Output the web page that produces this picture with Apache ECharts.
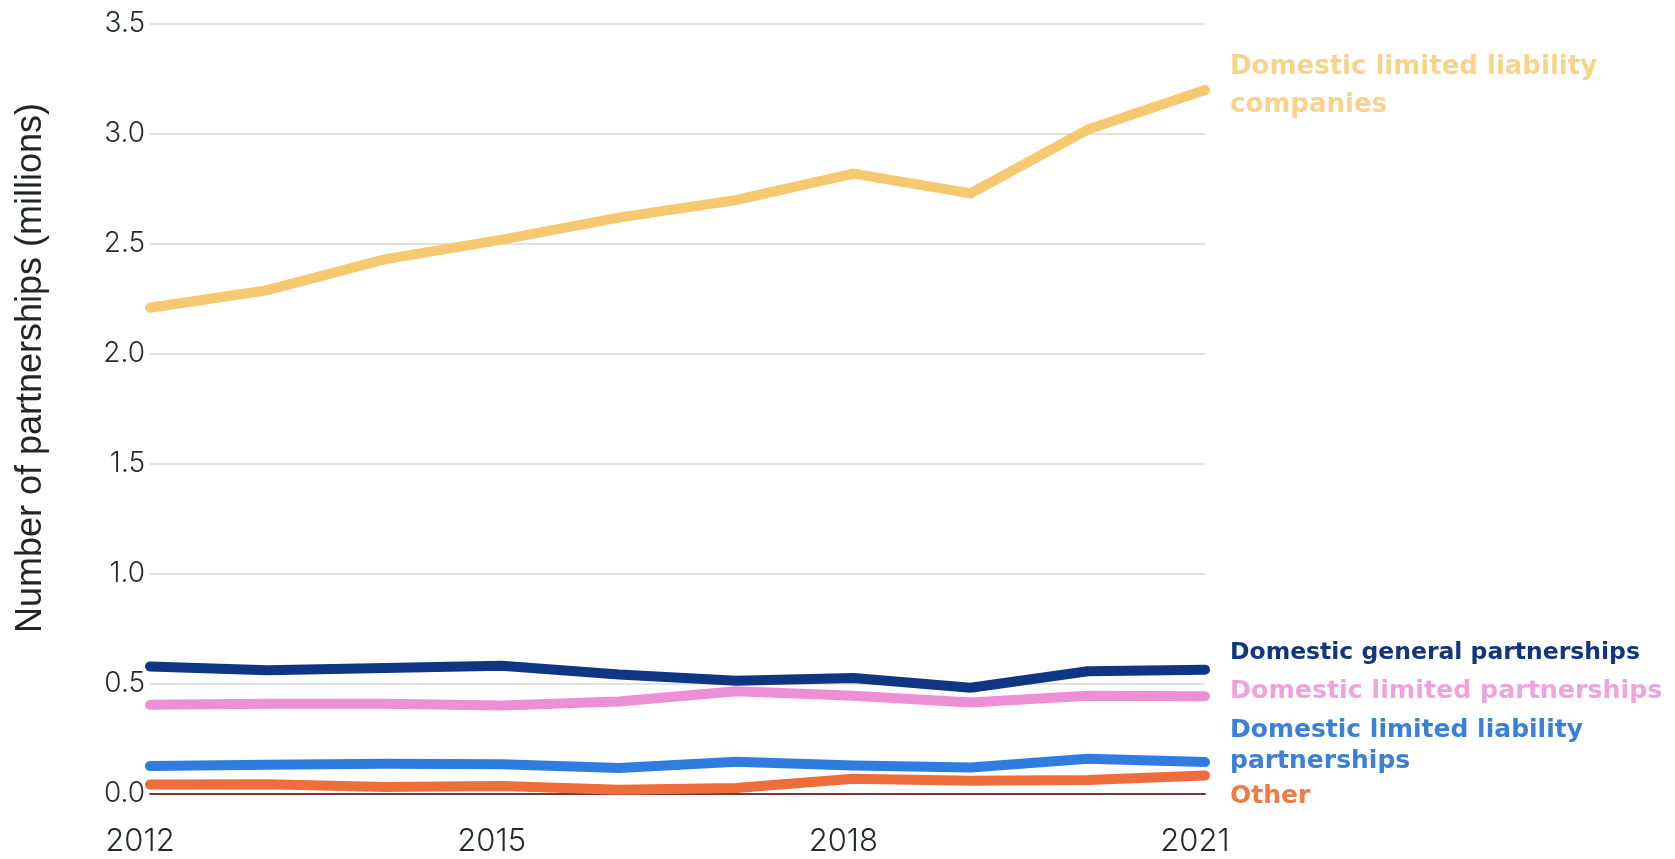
<!DOCTYPE html>
<html>
<head>
<meta charset="utf-8">
<script src="https://cdn.jsdelivr.net/npm/echarts@6/dist/echarts.min.js"></script>
<style>
  html, body { margin: 0; padding: 0; background: #fff; }
  #chart { width: 1675px; height: 859px; }
</style>
</head>
<body>
<div id="chart"></div>
<script>
// years on the x axis
var years = ['2012', '2013', '2014', '2015', '2016', '2017', '2018', '2019', '2020', '2021'];
var yTicks = [0, 0.5, 1, 1.5, 2, 2.5, 3, 3.5];

// partnerships, millions
var llc = [2.21, 2.29, 2.43, 2.52, 2.62, 2.70, 2.82, 2.73, 3.02, 3.20];
var generalP = [0.58, 0.563, 0.573, 0.583, 0.543, 0.515, 0.527, 0.483, 0.558, 0.565];
var limitedP = [0.406, 0.41, 0.41, 0.402, 0.42, 0.467, 0.447, 0.416, 0.447, 0.444];
var llp = [0.127, 0.133, 0.138, 0.135, 0.118, 0.147, 0.129, 0.12, 0.160, 0.145];
var other = [0.043, 0.044, 0.032, 0.036, 0.019, 0.027, 0.069, 0.060, 0.064, 0.084];

var names = [
    'Domestic limited liability\ncompanies',
    'Domestic general partnerships',
    'Domestic limited partnerships',
    'Domestic limited liability\npartnerships',
    'Other'
];

var axisFont = 'Inter, "Noto Sans", sans-serif';
var labelFont = '"DejaVu Sans", sans-serif';

function mkSeries(data, name, color, labelColor, size, lh, offsetY) {
    return {
        type: 'line',
        name: name,
        data: data,
        symbol: 'none',
        silent: true,
        lineStyle: { color: color, width: 10, cap: 'round', join: 'round' },
        endLabel: {
            show: true,
            formatter: name,
            color: labelColor,
            fontFamily: labelFont,
            fontSize: size,
            fontWeight: 'bold',
            lineHeight: lh,
            distance: 25,
            offset: [0, offsetY]
        }
    };
}

var chart = echarts.init(document.getElementById('chart'), null, { renderer: 'canvas' });
chart.setOption({
    animation: false,
    backgroundColor: '#fff',
    grid: { left: 150, right: 470, top: 24, bottom: 65, containLabel: false },
    xAxis: {
        type: 'category',
        data: years,
        boundaryGap: false,
        axisLine: { show: true, onZero: true, lineStyle: { color: '#7a3535', width: 2 } },
        axisTick: { show: false },
        axisLabel: {
            interval: 2,
            margin: 32,
            padding: [0, 20, 0, 0],
            color: '#1f2b2b',
            fontFamily: axisFont,
            fontSize: 31,
            fontWeight: 300
        },
        splitLine: { show: false }
    },
    yAxis: {
        type: 'value',
        min: yTicks[0],
        max: yTicks[yTicks.length - 1],
        interval: 0.5,
        axisLine: { show: false },
        axisTick: { show: false },
        axisLabel: {
            margin: 5,
            color: '#1f2b2b',
            fontFamily: axisFont,
            fontSize: 28,
            fontWeight: 300,
            formatter: function (v) { return v.toFixed(1); }
        },
        splitLine: { lineStyle: { color: '#d9d9d9', width: 1.5 } }
    },
    graphic: [{
        type: 'text',
        x: 31,
        y: 368,
        rotation: Math.PI / 2,
        style: {
            text: 'Number of partnerships (millions)',
            fill: '#1f2626',
            font: '36px "Liberation Sans", Arial, sans-serif',
            align: 'center',
            verticalAlign: 'middle'
        }
    }],
    series: [
        mkSeries(llc, names[0], '#f6c86f', '#f7d38a', 26, 38, -4),
        mkSeries(generalP, names[1], '#0f3684', '#12357f', 23.5, 31, -17),
        mkSeries(limitedP, names[2], '#ec8fd6', '#f0a2dc', 25.3, 31, -5),
        mkSeries(llp, names[3], '#2f7de0', '#3a80da', 25, 31, -16),
        mkSeries(other, names[4], '#ef6d3b', '#ef7a45', 25, 31, 21)
    ]
});
</script>
</body>
</html>
